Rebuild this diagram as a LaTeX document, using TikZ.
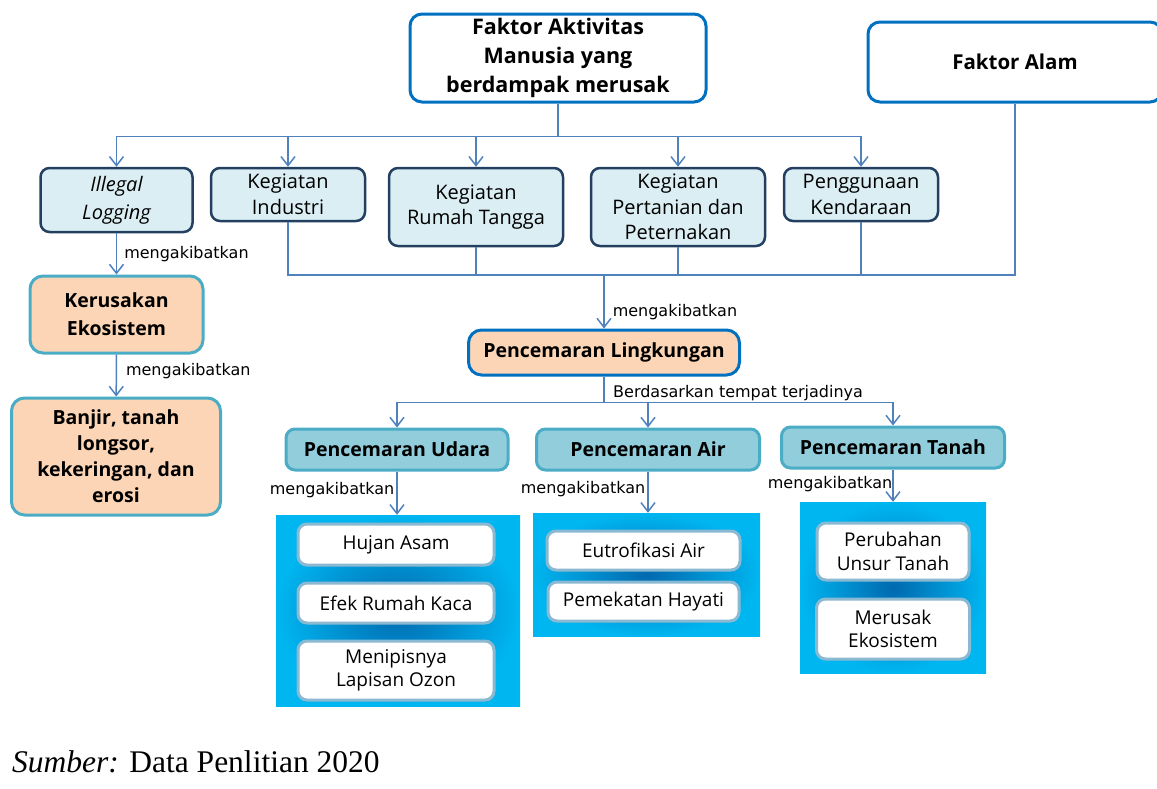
\documentclass[tikz,border=0pt]{standalone}
\usepackage{fontspec}
\setmainfont{Open Sans}
\newfontfamily\lblfont{DejaVu Sans}
\newfontfamily\capfont{Liberation Serif}
\usetikzlibrary{positioning, arrows.meta}

\definecolor{mainblue}{RGB}{0,112,192}
\definecolor{navyline}{RGB}{36,64,97}
\definecolor{paleblue}{RGB}{219,238,244}
\definecolor{peach}{RGB}{251,213,181}
\definecolor{tealline}{RGB}{75,172,198}
\definecolor{typefill}{RGB}{146,205,220}
\definecolor{linkblue}{RGB}{79,129,189}
\definecolor{skyblue}{RGB}{0,182,240}
\definecolor{deepblue}{RGB}{0,105,175}
\definecolor{itemline}{RGB}{140,185,210}

\begin{document}
\begin{tikzpicture}[x=1pt, y=-1pt]
\tikzstyle{topbox} = [rectangle, draw=mainblue, line width=3pt, rounded corners=12pt, fill=white, align=center, inner sep=0pt, font=\fontsize{21.5}{29}\selectfont\bfseries]
\tikzstyle{actbox} = [rectangle, draw=navyline, line width=2.5pt, rounded corners=9pt, fill=paleblue, align=center, inner sep=0pt, font=\fontsize{20}{25.5}\selectfont]
\tikzstyle{effbox} = [rectangle, draw=tealline, line width=3pt, rounded corners=13pt, fill=peach, align=center, inner sep=0pt, font=\fontsize{19.5}{26}\selectfont\bfseries]
\tikzstyle{typebox} = [rectangle, draw=tealline, line width=3pt, rounded corners=9pt, fill=typefill, align=center, inner sep=0pt, font=\fontsize{19.5}{24}\selectfont\bfseries]
\tikzstyle{panel} = [rectangle, inner color=deepblue, outer color=skyblue, inner sep=0pt]
\tikzstyle{itembox} = [rectangle, draw=itemline, line width=3pt, rounded corners=9pt, fill=white, align=center, inner sep=0pt, font=\fontsize{19}{23.5}\selectfont]
\tikzstyle{link} = [draw=linkblue, line width=1.5pt]
\tikzstyle{arrow} = [link, -{Straight Barb[length=9pt,width=14pt]}]
\tikzstyle{lbl} = [inner sep=2pt, font=\lblfont\fontsize{16}{19}\selectfont]

\useasboundingbox (0,0) rectangle (1157,788);

% sources
\node (akt) [topbox, minimum width=296pt, minimum height=88pt] at (558,58) {Faktor Aktivitas\\Manusia yang\\berdampak merusak};
\node (alam) [topbox, minimum width=294pt, minimum height=80pt, font=\fontsize{20.5}{28}\selectfont\bfseries] at (1015,62) {Faktor Alam};

% activities
\node (logging) [actbox, minimum width=152pt, minimum height=64pt, font=\fontsize{20}{28}\selectfont\itshape] at (116.5,200) {Illegal\\Logging};
\node (industri) [actbox, minimum width=154pt, minimum height=53pt] at (288,194.5) {Kegiatan\\Industri};
\node (rumah) [actbox, minimum width=174pt, minimum height=78pt] at (476,207) {Kegiatan\\Rumah Tangga};
\node (tani) [actbox, minimum width=174pt, minimum height=78pt] at (678,207) {Kegiatan\\Pertanian dan\\Peternakan};
\node (kendaraan) [actbox, minimum width=154pt, minimum height=53pt] at (861,194.5) {Penggunaan\\Kendaraan};

% effects
\node (kerusakan) [effbox, minimum width=173pt, minimum height=77pt, font=\fontsize{19.5}{28}\selectfont\bfseries] at (116.5,314.5) {Kerusakan\\Ekosistem};
\node (banjir) [effbox, minimum width=209pt, minimum height=117pt] at (116,456.5) {Banjir, tanah\\longsor,\\kekeringan, dan\\erosi};
\node (lingkungan) [effbox, draw=mainblue, minimum width=271pt, minimum height=45pt] at (604,352.5) {Pencemaran Lingkungan};

% kinds of pollution
\node (udara) [typebox, minimum width=222pt, minimum height=41pt] at (397,449.5) {Pencemaran Udara};
\node (air) [typebox, minimum width=223pt, minimum height=41pt] at (648,449.5) {Pencemaran Air};
\node (tanah) [typebox, minimum width=223pt, minimum height=41pt] at (893,447.5) {Pencemaran Tanah};

\node (pU) [panel, minimum width=244pt, minimum height=191pt] at (398,610.5) {};
\node (pA) [panel, minimum width=227pt, minimum height=123pt] at (646.5,574.5) {};
\node (pT) [panel, minimum width=186pt, minimum height=171pt] at (893,587.5) {};

\node (hujan) [itembox, minimum width=196pt, minimum height=41pt] at (396,544.5) {Hujan Asam};
\node (efek) [itembox, minimum width=196pt, minimum height=40pt, below=15pt of hujan] {Efek Rumah Kaca};
\node (ozon) [itembox, minimum width=196pt, minimum height=59pt, below=15pt of efek] {Menipisnya\\Lapisan Ozon};
\node (eutro) [itembox, minimum width=193pt, minimum height=39pt] at (643.5,550.5) {Eutrofikasi Air};
\node (hayati) [itembox, minimum width=191pt, minimum height=39pt, below=9pt of eutro] {Pemekatan Hayati};
\node (unsur) [itembox, minimum width=152pt, minimum height=57pt] at (893,551.5) {Perubahan\\Unsur Tanah};
\node (merusak) [itembox, minimum width=153pt, minimum height=60pt, below=16pt of unsur] {Merusak\\Ekosistem};

% connectors
\draw [arrow] (akt.south) -- ++(0,33) -| (logging.north);
\draw [arrow] (akt.south) -- ++(0,33) -| (industri.north);
\draw [arrow] (akt.south) -- ++(0,33) -| (rumah.north);
\draw [arrow] (akt.south) -- ++(0,33) -| (tani.north);
\draw [arrow] (akt.south) -- ++(0,33) -| (kendaraan.north);

\draw [arrow] (logging) -- node[lbl, right, xshift=5pt] (m1) {mengakibatkan} (kerusakan);
\draw [arrow] (kerusakan) -- node[lbl, right, xshift=7pt, yshift=4pt] (m2) {mengakibatkan} (banjir);

\coordinate (bus) at (604,275);
\draw [link] (industri.south) |- (bus);
\draw [link] (rumah.south) |- (bus);
\draw [link] (tani.south) |- (bus);
\draw [link] (kendaraan.south) |- (bus);
\draw [link] (alam.south) |- (bus);
\draw [arrow] (bus) -- node[lbl, right, pos=0.7, xshift=6pt] (m3) {mengakibatkan} (lingkungan);

\draw [arrow] (lingkungan.south) -- ++(0,26) -| (udara.north);
\draw [arrow] (lingkungan.south) -- ++(0,26) -| (air.north);
\draw [arrow] (lingkungan.south) -- ++(0,26) -| (tanah.north);
\node (basis) [lbl, anchor=west] at (611,393) {Berdasarkan tempat terjadinya};

\draw [arrow] (udara.south) -- node[lbl, left, yshift=3pt] (m4) {mengakibatkan} (udara.south |- pU.north);
\draw [arrow] (air.south) -- node[lbl, left, yshift=3pt] (m5) {mengakibatkan} (air.south |- pA.north);
\draw [arrow] (tanah.south) -- node[lbl, left, xshift=2pt, yshift=2pt] (m6) {mengakibatkan} (tanah.south |- pT.north);

\node (src) [anchor=west, inner sep=0pt, font=\capfont\fontsize{31.5}{36}\selectfont] at (12,762) {\textit{Sumber:} Data Penlitian 2020};
\end{tikzpicture}
\end{document}
